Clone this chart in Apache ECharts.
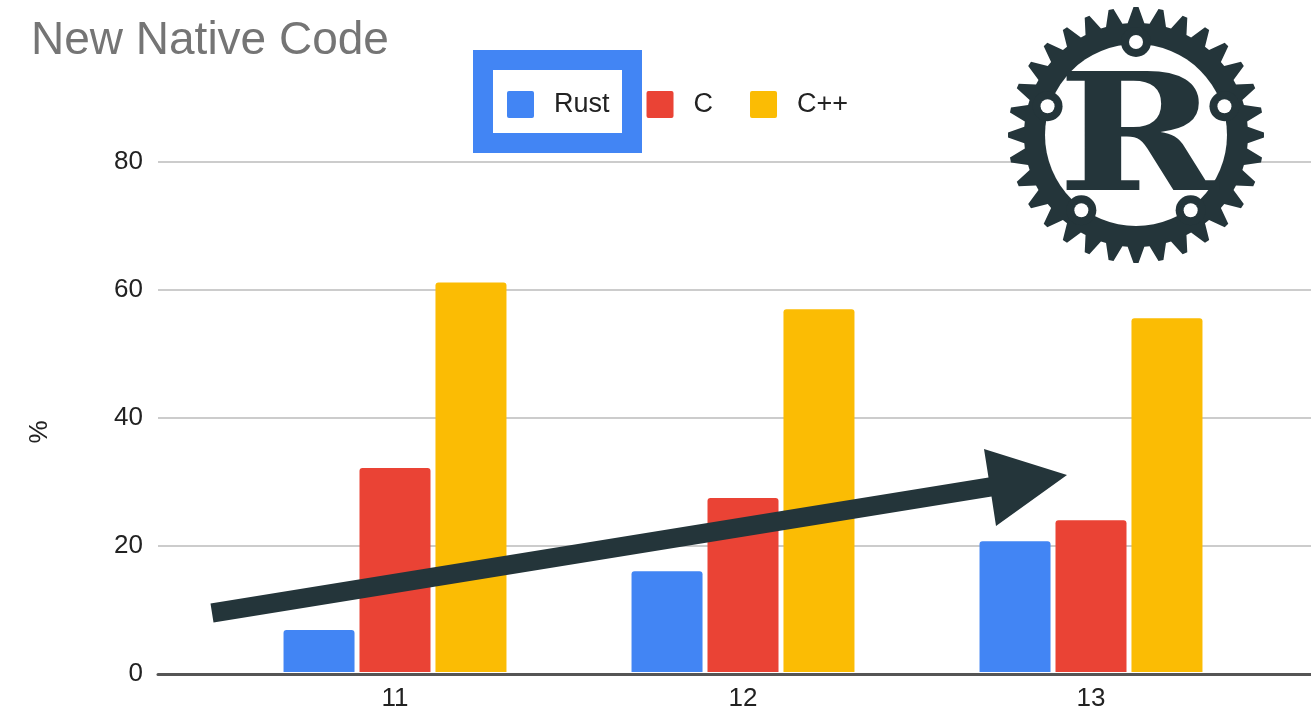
<!DOCTYPE html>
<html>
<head>
<meta charset="utf-8">
<title>New Native Code</title>
<script src="https://cdn.jsdelivr.net/npm/echarts@6/dist/echarts.min.js"></script>
<style>
  html, body { margin: 0; padding: 0; background: #fff; }
  #chart { width: 1311px; height: 712px; }
</style>
</head>
<body>
<div id="chart"></div>
<script>
// ==============================================================
// data
// ==============================================================
var versions = ['11', '12', '13'];
var rust = [6.6, 15.8, 20.5];
var cLang = [32.0, 27.3, 23.8];
var cpp = [61.1, 56.9, 55.5];
var yTicks = [0, 20, 40, 60, 80];

var FONT = '"Liberation Sans", Arial, sans-serif';
var DARK = '#24353a';

// ==============================================================
// Rust logo (decoration) - gear, ring, holes and the R
// ==============================================================
var cx = 1136, cy = 135;
var gearPts = [];
var teeth = 32;
for (var i = 0; i < teeth; i++) {
    var a = (i / teeth) * Math.PI * 2 - Math.PI / 2;
    var step = Math.PI * 2 / teeth;
    var r0 = 112, r1 = 128;
    gearPts.push([cx + r0 * Math.cos(a - step * 0.38), cy + r0 * Math.sin(a - step * 0.38)]);
    gearPts.push([cx + r1 * Math.cos(a - step * 0.1), cy + r1 * Math.sin(a - step * 0.1)]);
    gearPts.push([cx + r1 * Math.cos(a + step * 0.1), cy + r1 * Math.sin(a + step * 0.1)]);
    gearPts.push([cx + r0 * Math.cos(a + step * 0.38), cy + r0 * Math.sin(a + step * 0.38)]);
}
var logo = [
    { type: 'polygon', shape: { points: gearPts }, style: { fill: DARK }, z: 100 },
    { type: 'circle', shape: { cx: cx, cy: cy, r: 91 }, style: { fill: '#fff' }, z: 101 }
];
[-90, -18, 54, 126, 198].forEach(function (deg) {
    var a = deg * Math.PI / 180;
    var hx = cx + 93 * Math.cos(a), hy = cy + 93 * Math.sin(a);
    logo.push({ type: 'circle', shape: { cx: hx, cy: hy, r: 15 }, style: { fill: DARK }, z: 102 });
    logo.push({ type: 'circle', shape: { cx: hx, cy: hy, r: 7 }, style: { fill: '#fff' }, z: 103 });
});
logo.push({
    type: 'text', x: 1138, y: 148, scaleX: 1.19, z: 104,
    style: {
        text: 'R', fill: DARK, align: 'center', verticalAlign: 'middle',
        font: 'bold 163px "DejaVu Serif", serif'
    }
});

// ==============================================================
// arrow (annotation)
// ==============================================================
var arrow = {
    type: 'polygon', z: 110,
    shape: {
        points: [[210.5, 603.6], [988.5, 477.6], [984, 449], [1067, 475],
                 [996, 526], [991.5, 496.4], [213.5, 622.4]]
    },
    style: { fill: DARK }
};

// ==============================================================
// chart
// ==============================================================
var dom = document.getElementById('chart');
var myChart = echarts.init(dom);
var option = {
    animation: false,
    backgroundColor: '#fff',
    color: ['#4285F4', '#EA4335', '#FBBC04'],
    title: {
        text: 'New Native Code',
        left: 31, top: 18, padding: 0,
        textStyle: { fontFamily: FONT, fontSize: 46, fontWeight: 'normal', color: '#757575' }
    },
    legend: {
        data: ['Rust', 'C', 'C++'],
        left: 507, top: 91, padding: 0,
        icon: 'path://M2,0 L25,0 Q27,0 27,2 L27,25 Q27,27 25,27 L2,27 Q0,27 0,25 L0,2 Q0,0 2,0 Z',
        itemWidth: 27, itemHeight: 27, itemGap: 37,
        textStyle: { fontFamily: FONT, fontSize: 27, color: '#222', padding: [0, 0, 0, 15] }
    },
    grid: [
        { left: 158, right: 0, top: 162, bottom: 38 },
        { left: 221, right: 46, top: 162, bottom: 38 }
    ],
    xAxis: [
        {
            type: 'category', gridIndex: 0, data: versions, z: 10,
            axisLine: { show: true, lineStyle: { color: '#555', width: 3 } },
            axisTick: { show: false }, axisLabel: { show: false }, splitLine: { show: false }
        },
        {
            type: 'category', gridIndex: 1, data: versions,
            axisLine: { show: false }, axisTick: { show: false },
            axisLabel: { fontFamily: FONT, fontSize: 26, color: '#222', margin: 14 }
        }
    ],
    yAxis: [
        {
            type: 'value', gridIndex: 0, min: yTicks[0], max: yTicks[yTicks.length - 1], interval: 20,
            axisLine: { show: false }, axisTick: { show: false },
            axisLabel: { fontFamily: FONT, fontSize: 26, color: '#222', margin: 15 },
            splitLine: { lineStyle: { color: '#cccccc', width: 2 } }
        },
        {
            type: 'value', gridIndex: 1, min: yTicks[0], max: yTicks[yTicks.length - 1], interval: 20,
            show: false, splitLine: { show: false }
        }
    ],
    series: [
        { name: 'Rust', type: 'bar', xAxisIndex: 1, yAxisIndex: 1, data: rust,
          barWidth: 71, barGap: '7%', itemStyle: { borderRadius: [3, 3, 0, 0] } },
        { name: 'C', type: 'bar', xAxisIndex: 1, yAxisIndex: 1, data: cLang,
          barWidth: 71, barGap: '7%', itemStyle: { borderRadius: [3, 3, 0, 0] } },
        { name: 'C++', type: 'bar', xAxisIndex: 1, yAxisIndex: 1, data: cpp,
          barWidth: 71, barGap: '7%', itemStyle: { borderRadius: [3, 3, 0, 0] } }
    ],
    graphic: [
        {
            type: 'text', x: 40, y: 432, rotation: Math.PI / 2,
            style: { text: '%', fontFamily: FONT, fontSize: 26, fill: '#222', align: 'center', verticalAlign: 'middle' }
        },
        {
            type: 'rect', z: 90,
            shape: { x: 483, y: 60, width: 149, height: 83 },
            style: { fill: null, stroke: '#4285F4', lineWidth: 20 }
        },
        arrow
    ].concat(logo)
};

if (option && typeof option === 'object') {
    myChart.setOption(option, true);
    window.addEventListener('resize', function () { myChart.resize(); });
}
</script>
</body>
</html>
